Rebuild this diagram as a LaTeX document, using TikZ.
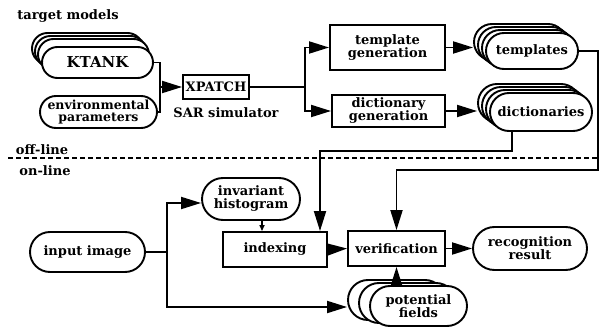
\documentclass[tikz,border=0pt]{standalone}
\usepackage{fontspec}
\setmainfont{DejaVu Serif}
\usetikzlibrary{arrows.meta,shapes.misc}
\begin{document}
\begin{tikzpicture}[x=1pt,y=-1pt,line width=1.9pt,
  txt/.style={font=\bfseries\fontsize{13}{13}\selectfont,inner sep=0pt,align=center},
  stad/.style={rounded rectangle,draw,fill=white,txt},
  boxn/.style={rectangle,draw,fill=white,txt},
  arr/.style={-{Triangle[length=20pt,width=12pt]}},
  smallarr/.style={-{Triangle[length=6pt,width=5pt]}}]
\useasboundingbox (0,0) rectangle (599,331);

% labels
\node[txt] (tm) at (68,16) {target models};
\node[txt] (off) at (42,150) {off-line};
\node[txt] (on) at (45,171) {on-line};
\node[txt] (sar) at (226,113) {SAR simulator};

% KTANK stack
\node[stad,minimum width=111,minimum height=31] (ktc) at (87.5,48.5) {};
\node[stad,minimum width=111,minimum height=31] (ktb) at (90.5,51.5) {};
\node[stad,minimum width=111,minimum height=31] (kta) at (93.5,54.5) {};
\node[stad,minimum width=111,minimum height=31,font=\bfseries\fontsize{15}{15}\selectfont] (kt) at (97.5,62.5) {KTANK};
\node[stad,minimum width=117,minimum height=32,font=\bfseries\fontsize{12.5}{12.5}\selectfont] (env) at (98.5,112) {environmental\\parameters};

\node[boxn,minimum width=66,minimum height=24] (xp) at (216,87) {XPATCH};
\node[boxn,minimum width=115,minimum height=45] (tg) at (387.5,47.5) {template\\generation};
\node[boxn,minimum width=113,minimum height=32] (dg) at (388.5,111) {dictionary\\generation};

% templates stack
\node[stad,minimum width=92,minimum height=36] (tpc) at (520,42) {};
\node[stad,minimum width=92,minimum height=36] (tpb) at (524,45) {};
\node[stad,minimum width=92,minimum height=36] (tpa) at (528,48) {};
\node[stad,minimum width=92,minimum height=36] (tp) at (532,51) {templates};

% dictionaries stack
\node[stad,minimum width=102,minimum height=38] (dcc) at (529,103) {};
\node[stad,minimum width=102,minimum height=38] (dcb) at (533,106) {};
\node[stad,minimum width=102,minimum height=38] (dca) at (537,109) {};
\node[stad,minimum width=102,minimum height=38] (dc) at (541,112) {dictionaries};

% on-line part
\node[stad,minimum width=98,minimum height=42] (ih) at (251,199) {invariant\\histogram};
\node[stad,minimum width=115,minimum height=40] (inp) at (87.5,252) {input image};
\node[boxn,minimum width=104,minimum height=35] (idx) at (275,249.5) {indexing};
\node[boxn,minimum width=97,minimum height=35] (ver) at (396.5,248.5) {verification};
\node[stad,minimum width=114,minimum height=43] (rec) at (530,248.5) {recognition\\result};

% potential fields stack
\node[stad,minimum width=97,minimum height=40] (pfb) at (396.5,300) {};
\node[stad,minimum width=97,minimum height=40] (pfa) at (407.5,303) {};
\node[stad,minimum width=97,minimum height=40] (pf) at (418.5,306) {potential\\fields};

% coordinates
\coordinate (j1) at (160,87);
\coordinate (j2) at (305,87);
\coordinate (r2) at (598,170);
\coordinate (d0) at (512,151);
\coordinate (d2) at (320,151);
\coordinate (i1) at (167,203);
\coordinate (i2) at (167,307);
\coordinate (ihx) at (262,220);
\coordinate (dl) at (8,158);
\coordinate (dr) at (599,158);

% connectors
\draw (kt.east) -| (j1) |- (env.east);
\draw[arr] (j1) -- (xp.west);
\draw (xp.east) -- (j2);
\draw[arr] (j2) |- (tg.west);
\draw[arr] (j2) |- (dg.west);
\draw[arr] (tg.east) -- (tg.east -| tpc.west);
\draw[arr] (dg.east) -- (dg.east -| dcc.west);
\draw[arr] (tp.east) -| (r2) -| (ver.north);
\draw[arr] (dc.south -| d0) -- (d0) -- (d2) -- (d2 |- idx.north);
\draw[arr] (inp.east) -| (i1) -- (i1 -| ih.west);
\draw[arr] (inp.east -| i1) -- (i2) -- (i2 -| pfb.west);
\draw[smallarr] (ihx) -- (ihx |- idx.north);
\draw[arr] (idx.east) -- (ver.west);
\draw[arr] (ver.east) -- (rec.west);
\draw[arr] (ver.south |- pfb.north) -- (ver.south);

\draw[dash pattern=on 5pt off 3pt] (dl) -- (dr);
\end{tikzpicture}
\end{document}
